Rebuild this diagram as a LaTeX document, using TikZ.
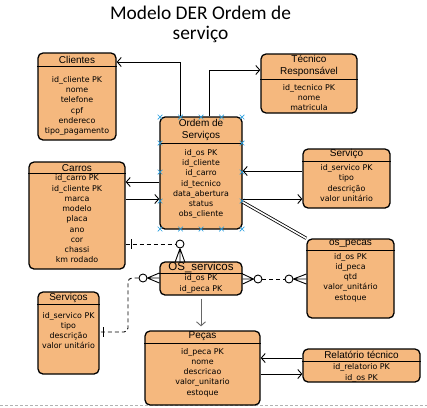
\documentclass[tikz,border=0pt]{standalone}
\usepackage{fontspec}
\setmainfont{Liberation Sans}
\newfontfamily\fontecorpo{DejaVu Sans}
\newfontfamily\fontetitulo{Carlito}
\usepackage{tikz}
\usetikzlibrary{arrows.meta, shapes.misc}
\definecolor{laranja}{RGB}{245,184,126}
\definecolor{azulmarca}{RGB}{40,160,225}

\begin{document}
\begin{tikzpicture}[x=1pt, y=-1pt,
	>={Straight Barb[length=4pt,width=9pt]},
	entidade/.style={draw=black, fill=laranja, line width=1.3pt, rounded corners=5pt, inner sep=0pt},
	titulo/.style={font=\fontsize{10}{11.5}\selectfont, align=center},
	campos/.style={font=\fontecorpo\fontsize{7.9}{10.3}\selectfont, align=center},
	liga/.style={line width=0.9pt},
	tracejado/.style={line width=0.9pt, dash pattern=on 4pt off 3pt},
	bola/.style={circle, draw=black, fill=white, line width=0.9pt, minimum size=8pt, inner sep=0pt},
	marca/.style={cross out, draw=azulmarca, line width=0.7pt, minimum size=4pt, inner sep=0pt}]

	\useasboundingbox (0,0) rectangle (427,407);
	\draw[black!30, dash pattern=on 3pt off 2pt] (0,405.5) -- (427,405.5);

	\node[font=\fontetitulo\fontsize{19.4}{20}\selectfont, align=center] (cab) at (200.5,24) {Modelo DER Ordem de\\serviço};

	% entidades
	\node[entidade, minimum width=78, minimum height=87] (cli) at (77,96.5) {};
	\node[entidade, minimum width=96, minimum height=59] (tec) at (309,83.5) {};
	\node[entidade, minimum width=82, minimum height=112] (os) at (201,173) {};
	\node[entidade, minimum width=96, minimum height=107] (car) at (77,215.5) {};
	\node[entidade, minimum width=87, minimum height=59] (srv) at (346.5,178.5) {};
	\node[entidade, minimum width=87, minimum height=79] (osp) at (350.5,278.5) {};
	\node[entidade, minimum width=82, minimum height=33] (oss) at (201,278.5) {};
	\node[entidade, minimum width=61, minimum height=82] (sv2) at (68.5,333) {};
	\node[entidade, minimum width=115, minimum height=74] (pec) at (202.5,368) {};
	\node[entidade, minimum width=117, minimum height=33] (rel) at (361.5,365.5) {};

	% linhas de cabecalho
	\draw[line width=1pt] (cli.west |- 0,66) -- (cli.east |- 0,66);
	\draw[line width=1pt] (tec.west |- 0,79) -- (tec.east |- 0,79);
	\draw[line width=1pt] (os.west |- 0,143) -- (os.east |- 0,143);
	\draw[line width=1pt] (car.west |- 0,173) -- (car.east |- 0,173);
	\draw[line width=1pt] (srv.west |- 0,161) -- (srv.east |- 0,161);
	\draw[line width=1pt] (osp.west |- 0,250) -- (osp.east |- 0,250);
	\draw[line width=1pt] (oss.west |- 0,273) -- (oss.east |- 0,273);
	\draw[line width=1pt] (sv2.west |- 0,304) -- (sv2.east |- 0,304);
	\draw[line width=1pt] (pec.west |- 0,343) -- (pec.east |- 0,343);
	\draw[line width=1pt] (rel.west |- 0,361) -- (rel.east |- 0,361);

	% titulos
	\node[titulo] at (cli.north |- 0,60) {Clientes};
	\node[titulo] at (tec.north |- 0,66) {Técnico\\Responsável};
	\node[titulo] at (os.north |- 0,130) {Ordem de\\Serviços};
	\node[titulo] at (car.north |- 0,168) {Carros};
	\node[titulo] at (srv.north |- 0,154) {Serviço};
	\node[titulo] at (osp.north |- 0,244) {os\_pecas};
	\node[titulo, font=\fontsize{11.5}{12}\selectfont] at (oss.north |- 0,267) {OS\_servicos};
	\node[titulo] at (sv2.north |- 0,298) {Serviços};
	\node[titulo] at (pec.north |- 0,336) {Peças};
	\node[titulo] at (rel.north |- 0,355) {Relatório técnico};

	% atributos
	\node[campos] at (cli.north |- 0,106) {id\_cliente PK\\nome\\telefone\\cpf\\endereco\\tipo\_pagamento};
	\node[campos] at (tec.north |- 0,97.5) {id\_tecnico PK\\nome\\matricula};
	\node[campos] at (os.north |- 0,184) {id\_os PK\\id\_cliente\\id\_carro\\id\_tecnico\\data\_abertura\\status\\obs\_cliente};
	\node[campos, font=\fontecorpo\fontsize{7.9}{10.25}\selectfont] at (car.north |- 0,219) {id\_carro PK\\id\_cliente PK\\marca\\modelo\\placa\\ano\\cor\\chassi\\km rodado};
	\node[campos] at (srv.north |- 0,183) {id\_servico PK\\tipo\\descrição\\valor unitário};
	\node[campos] at (osp.north |- 0,277.5) {id\_os PK\\id\_peca\\qtd\\valor\_unitário\\estoque};
	\node[campos] at (oss.north |- 0,284) {id\_os PK\\id\_peca PK};
	\node[campos] at (sv2.north |- 0,330.5) {id\_servico PK\\tipo\\descrição\\valor unitário};
	\node[campos] at (pec.north |- 0,372.5) {id\_peca PK\\nome\\descricao\\valor\_unitario\\estoque};
	\node[campos] at (rel.north |- 0,373) {id\_relatorio PK\\id\_os PK};

	% marcas de selecao
	\foreach \px in {160,180.5,201,221.5,242} {
		\node[marca] at (\px,117) {};
		\node[marca] at (\px,229) {};
	}
	\foreach \py in {143,172,201} {
		\node[marca] at (160,\py) {};
		\node[marca] at (242,\py) {};
	}

	% ligacoes
	\draw[liga,->] (os.north -| 180,0) |- (cli.east |- 0,62);
	\draw[liga,->] (os.north -| 209,0) |- (tec.west |- 0,70);
	\draw[liga,->] (os.west |- 0,182) -- (car.east |- 0,182);
	\draw[liga,->] (car.east |- 0,199) -- (os.west |- 0,199);
	\draw[liga,->] (srv.west |- 0,171) -- (os.east |- 0,171);
	\draw[liga,->] (os.east |- 0,199) -- (srv.west |- 0,199);
	\draw[double, double distance=1.6pt, line width=0.8pt] (os.east |- 0,202) -- (osp.north west);

	\node[bola] (c1) at (180,244) {};
	\node[bola] (c2) at (258,279) {};
	\node[bola] (c3) at (289,279) {};
	\node[bola] (c4) at (143,278) {};
	\coordinate (barra1) at (131,244);
	\coordinate (barra2) at (103,332);

	\draw[tracejado] (car.east |- 0,244) -- (c1.west);
	\draw[liga] (barra1) ++(0,-5) -- ++(0,10);
	\draw[liga] (c1.south) -- ++(-5,14) (c1.south) -- ++(0,14) (c1.south) -- ++(5,14);

	\draw[liga] (oss.east |- 0,274) -- (c2.west) -- (oss.east |- 0,284) (c2.west) -- (oss.east |- 0,279);
	\draw[tracejado] (c2.east) -- (c3.west);
	\draw[liga] (osp.west |- 0,274) -- (c3.east) -- (osp.west |- 0,284) (c3.east) -- (osp.west |- 0,279);

	\draw[liga] (oss.west |- 0,273) -- (c4.east) -- (oss.west |- 0,283) (c4.east) -- (oss.west |- 0,278);
	\draw[tracejado, rounded corners=4pt] (c4.west) -| (128,332) -- (sv2.east |- 0,332);
	\draw[liga] (barra2) ++(0,-5) -- ++(0,10);

	\draw[liga,->, black!60, shorten <=3pt, shorten >=4pt] (oss.south) -- (pec.north -| oss.south);
	\draw[liga,->] (rel.west |- 0,358) -- (pec.east |- 0,358);
	\draw[liga,->] (pec.east |- 0,374) -- (rel.west |- 0,374);
\end{tikzpicture}
\end{document}
